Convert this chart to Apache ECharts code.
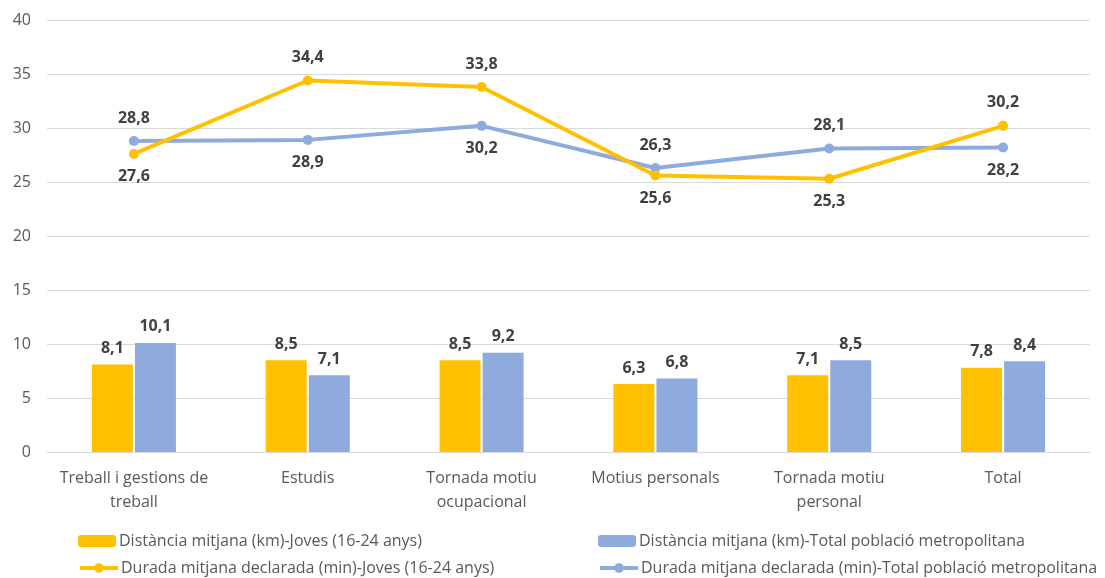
<!DOCTYPE html>
<html>
<head>
<meta charset="utf-8">
<script src="https://cdn.jsdelivr.net/npm/echarts@6/dist/echarts.min.js"></script>
<style>
html, body { margin: 0; padding: 0; background: #fff; }
#chart { width: 1105px; height: 578px; }
</style>
</head>
<body>
<div id="chart"></div>
<script>
// categories and values
var categories = ['Treball i gestions de\ntreball', 'Estudis', 'Tornada motiu\nocupacional', 'Motius personals', 'Tornada motiu\npersonal', 'Total'];
var distJoves = [8.1, 8.5, 8.5, 6.3, 7.1, 7.8];
var distTotal = [10.1, 7.1, 9.2, 6.8, 8.5, 8.4];
var duradaJoves = [27.6, 34.4, 33.8, 25.6, 25.3, 30.2];
var duradaTotal = [28.8, 28.9, 30.2, 26.3, 28.1, 28.2];
// label above or below the point
var posJoves = ['bottom', 'top', 'top', 'bottom', 'bottom', 'top'];
var posTotal = ['top', 'bottom', 'bottom', 'top', 'top', 'bottom'];

var names = [
    'Distància mitjana (km)-Joves (16-24 anys)',
    'Distància mitjana (km)-Total població metropolitana',
    'Durada mitjana declarada (min)-Joves (16-24 anys)',
    'Durada mitjana declarada (min)-Total població metropolitana'
];
var yellow = '#FFC000';
var blue = '#8FAADC';
var fontFam = "'Open Sans', 'Noto Sans', sans-serif";

function fmt(v) { return String(v.toFixed(1)).replace('.', ','); }

var labelStyle = {
    show: true, color: '#404040', fontWeight: 'bold', fontSize: 16, fontFamily: fontFam,
    formatter: function (p) { return fmt(p.value); }
};

function lineData(vals, pos) {
    return vals.map(function (v, i) {
        return { value: v, label: { position: pos[i], distance: 10 } };
    });
}

// one legend per item, placed in two rows / two columns
function legendItem(name, left, top) {
    return {
        left: left, top: top, itemWidth: 38, itemHeight: 12, itemGap: 4,
        lineStyle: { width: 4 },
        textStyle: { color: '#595959', fontSize: 16, fontFamily: fontFam, padding: [0, 0, 0, -2] },
        data: [name]
    };
}

var myChart = echarts.init(document.getElementById('chart'));
var option = {
    animation: false,
    grid: { left: 47, right: 15, top: 20, bottom: 126 },
    legend: [
        legendItem(names[0], 73, 528),
        legendItem(names[1], 593, 528),
        legendItem(names[2], 73, 555),
        legendItem(names[3], 593, 555)
    ],
    xAxis: {
        type: 'category',
        data: categories,
        axisTick: { show: false },
        axisLine: { lineStyle: { color: '#d9d9d9' } },
        axisLabel: { color: '#595959', fontSize: 16, fontFamily: fontFam, margin: 14, lineHeight: 24, interval: 0 }
    },
    yAxis: {
        type: 'value', min: 0, max: 40, interval: 5,
        axisLabel: { color: '#595959', fontSize: 16, fontFamily: fontFam, margin: 16 },
        splitLine: { lineStyle: { color: '#d9d9d9' } }
    },
    series: [{
        name: names[0], type: 'bar', data: distJoves, barWidth: 41, barGap: '5%',
        itemStyle: { color: yellow },
        label: Object.assign({ position: 'top', distance: 8 }, labelStyle)
    }, {
        name: names[1], type: 'bar', data: distTotal, barWidth: 41,
        itemStyle: { color: blue },
        label: Object.assign({ position: 'top', distance: 8 }, labelStyle)
    }, {
        name: names[2], type: 'line', data: lineData(duradaJoves, posJoves),
        symbol: 'circle', symbolSize: 10,
        lineStyle: { color: yellow, width: 4 }, itemStyle: { color: yellow },
        label: labelStyle, z: 3
    }, {
        name: names[3], type: 'line', data: lineData(duradaTotal, posTotal),
        symbol: 'circle', symbolSize: 10,
        lineStyle: { color: blue, width: 4 }, itemStyle: { color: blue },
        label: labelStyle, z: 2
    }]
};
myChart.setOption(option);
</script>
</body>
</html>
